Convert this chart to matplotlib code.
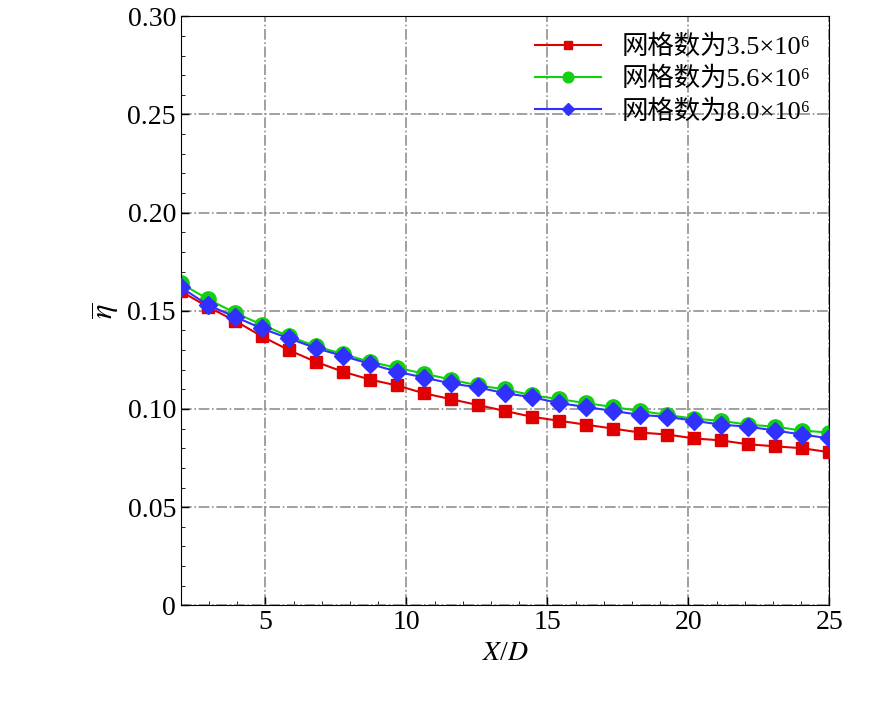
import matplotlib.pyplot as plt
from matplotlib.ticker import MultipleLocator

plt.rcParams['font.family'] = ['Liberation Serif', 'Noto Sans CJK SC']
plt.rcParams['mathtext.fontset'] = 'stix'

x_d = [2.0 + 23 / 24 * i for i in range(25)]
eta_35 = [.160, .152, .145, .137, .130, .124, .119, .115, .112, .108, .105, .102, .099,
          .096, .094, .092, .090, .088, .087, .085, .084, .082, .081, .080, .078]
eta_56 = [.164, .156, .149, .143, .137, .132, .128, .124, .121, .118, .115, .112, .110,
          .107, .105, .103, .101, .099, .097, .095, .094, .092, .091, .089, .088]
eta_80 = [.162, .153, .147, .141, .136, .131, .127, .123, .119, .116, .113, .111, .108,
          .106, .103, .101, .099, .097, .096, .094, .092, .091, .089, .087, .085]
labels = ["网格数为3.5×10⁶", "网格数为5.6×10⁶", "网格数为8.0×10⁶"]

fig = plt.figure(figsize=(8.86, 7.08), dpi=100)
ax = fig.add_axes([0.204, 0.145, 0.732, 0.832])

ax.plot(x_d, eta_35, color='#e00000', marker='s', ms=9, lw=1.5, label=labels[0], zorder=3)
ax.plot(x_d, eta_56, color='#10d010', marker='o', ms=11, lw=1.5, label=labels[1], zorder=2)
ax.plot(x_d, eta_80, color='#3030ff', marker='D', ms=9, lw=1.5, label=labels[2], zorder=4)

ax.set_xlim(2, 25)
ax.set_ylim(0, 0.30)
ax.set_xticks([5, 10, 15, 20, 25])
ax.set_yticks([0, 0.05, 0.10, 0.15, 0.20, 0.25, 0.30])
ax.set_yticklabels(['0', '0.05', '0.10', '0.15', '0.20', '0.25', '0.30'])
ax.xaxis.set_minor_locator(MultipleLocator(1))
ax.yaxis.set_minor_locator(MultipleLocator(0.01))
ax.tick_params(direction='in', labelsize=20, length=6, width=1)
ax.tick_params(which='minor', direction='in', length=3)
ax.grid(True, color='#909090', ls='-.', lw=1.2)

ax.set_xlabel('$X$/$D$', fontsize=20)
ax.set_ylabel(r'$\overline{\eta}$', fontsize=22)
leg = ax.legend(loc='upper right', frameon=False, fontsize=19, handlelength=2.5,
                borderaxespad=0.3, labelspacing=0.3, markerscale=0.7)

fig.savefig('out.png')
